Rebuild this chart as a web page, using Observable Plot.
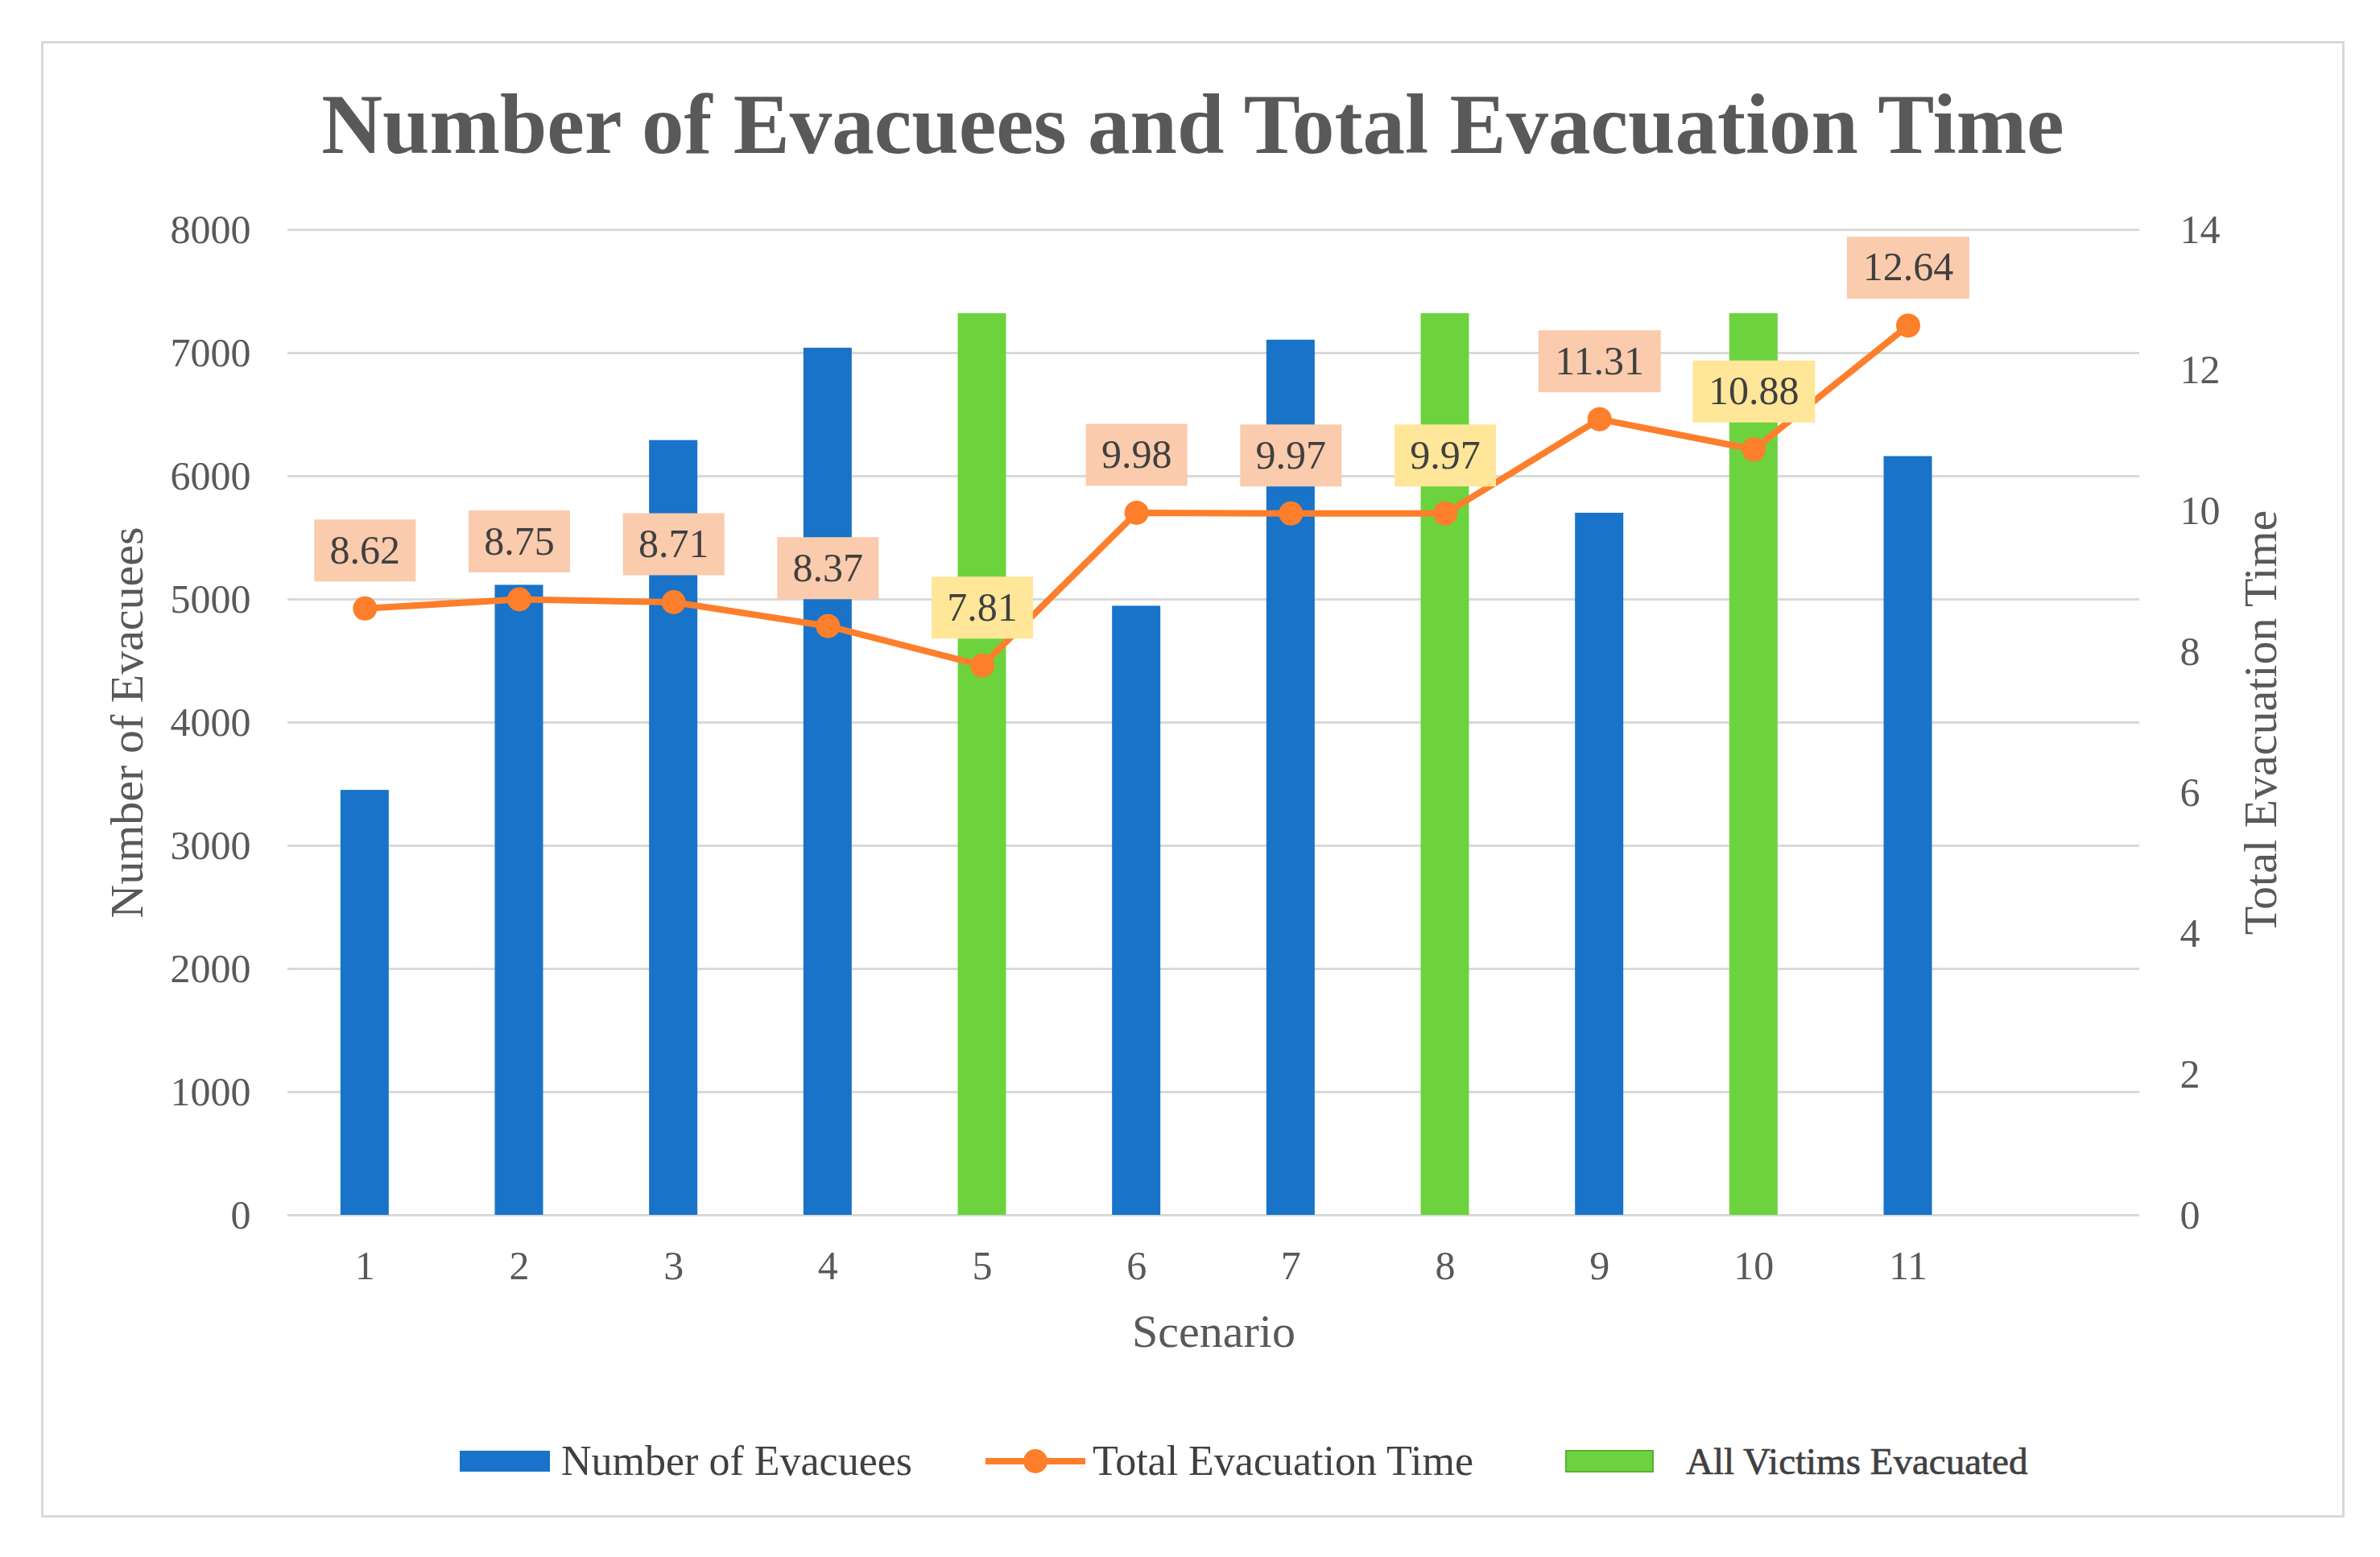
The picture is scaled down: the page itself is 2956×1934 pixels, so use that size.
<!DOCTYPE html>
<html>
<head>
<meta charset="utf-8">
<script src="https://cdn.jsdelivr.net/npm/d3@7"></script>
<script src="https://cdn.jsdelivr.net/npm/@observablehq/plot@0.6"></script>
<style>
html, body { margin: 0; padding: 0; background: #fff; }
body { width: 2956px; height: 1934px; position: relative; overflow: hidden; font-family: "Liberation Serif", "Times New Roman", serif; }
#frame { position: absolute; left: 51px; top: 51px; width: 2861px; height: 1834px; border: 3px solid #d9d9d9; box-sizing: border-box; }
#title { position: absolute; left: 51px; width: 2861px; top: 103px; text-align: center; font-size: 105px; line-height: 104px; font-weight: bold; color: #595959; white-space: nowrap; }
#chart { position: absolute; left: 0; top: 230px; }
#chart svg, #chart svg text { font-family: "Liberation Serif", "Times New Roman", serif !important; }
.lg { position: absolute; top: 1785px; line-height: 60px; font-size: 52px; color: #404040; white-space: nowrap; }
.sw { position: absolute; }
</style>
</head>
<body>
<div id="frame"></div>
<div id="title">Number of Evacuees and Total Evacuation Time</div>
<div id="chart"></div>
<div id="legend"></div>
<script>
// ---- data ----
const scenarios = [1, 2, 3, 4, 5, 6, 7, 8, 9, 10, 11];
const evacuees = [3450, 5115, 6290, 7040, 7320, 4945, 7105, 7320, 5700, 7320, 6160];
const evacTime = [8.62, 8.75, 8.71, 8.37, 7.81, 9.98, 9.97, 9.97, 11.31, 10.88, 12.64];
const allEvacuated = [false, false, false, false, true, false, false, true, false, true, false];
const leftTicks = [0, 1000, 2000, 3000, 4000, 5000, 6000, 7000, 8000];
const rightTicks = [0, 2, 4, 6, 8, 10, 12, 14];
const seriesNames = ["Number of Evacuees", "Total Evacuation Time", "All Victims Evacuated"];

const BLUE = "#1873C9", GREEN = "#6CD33F", ORANGE = "#FD7E2B";
const PEACH = "#FACBAD", YELLOW = "#FFE699";
const FONT = '"Liberation Serif", "Times New Roman", serif';
const LEFT_MAX = 8000, RIGHT_MAX = 14;
const k = LEFT_MAX / RIGHT_MAX;

const data = scenarios.map((s, i) => ({
  s: String(s),
  n: evacuees[i],
  t: evacTime[i],
  all: allEvacuated[i],
  label: evacTime[i].toFixed(2)
}));

function rectSymbol(w, h) {
  return { draw(ctx) { ctx.rect(-w / 2, -h / 2, w, h); } };
}

const xDomain = [...scenarios.map(String), " "];

const chart = Plot.plot({
  width: 2956,
  height: 1500,
  marginTop: 55,
  marginBottom: 221,
  marginLeft: 357,
  marginRight: 299,
  style: { fontFamily: FONT, background: "transparent", color: "#595959", overflow: "visible" },
  x: { type: "band", domain: xDomain, paddingInner: 0.687, paddingOuter: 0.3435, align: 0.5, round: false },
  y: { domain: [0, LEFT_MAX] },
  color: { type: "identity" },
  marks: [
    Plot.ruleY(leftTicks, { stroke: "#d9d9d9", strokeWidth: 3 }),
    Plot.barY(data, { x: "s", y: "n", fill: d => d.all ? GREEN : BLUE }),
    Plot.lineY(data, { x: "s", y: d => d.t * k, stroke: ORANGE, strokeWidth: 8 }),
    Plot.dot(data, { x: "s", y: d => d.t * k, r: 15, fill: ORANGE, stroke: null }),
    Plot.dot(data.filter(d => d.label.length <= 4), { x: "s", y: d => d.t * k, dy: -72, symbol: rectSymbol(126, 77), fill: d => d.all ? YELLOW : PEACH, stroke: null }),
    Plot.dot(data.filter(d => d.label.length > 4), { x: "s", y: d => d.t * k, dy: -72, symbol: rectSymbol(152, 77), fill: d => d.all ? YELLOW : PEACH, stroke: null }),
    Plot.text(data, { x: "s", y: d => d.t * k, dy: -72, text: "label", fontSize: 50, fontFamily: FONT, fill: "#404040" }),
    Plot.axisY(leftTicks, { anchor: "left", tickSize: 0, tickPadding: 46, fontSize: 50, fontFamily: FONT, fill: "#595959", tickFormat: d => String(d), label: null }),
    Plot.axisY(rightTicks.map(v => v * k), { anchor: "right", tickSize: 0, tickPadding: 50, fontSize: 50, fontFamily: FONT, fill: "#595959", tickFormat: v => String(Math.round(v / k)), label: null }),
    Plot.axisX(scenarios.map(String), { anchor: "bottom", tickSize: 0, tickPadding: 44, fontSize: 50, fontFamily: FONT, fill: "#595959", label: null }),
    Plot.text([seriesNames[0]], { frameAnchor: "left", textAnchor: "middle", lineAnchor: "middle", dx: -199, rotate: -90, fontSize: 58, fontFamily: FONT, fill: "#595959" }),
    Plot.text([seriesNames[1]], { frameAnchor: "right", textAnchor: "middle", lineAnchor: "middle", dx: 151, rotate: -90, fontSize: 58, fontFamily: FONT, fill: "#595959" }),
    Plot.text(["Scenario"], { frameAnchor: "bottom", textAnchor: "middle", lineAnchor: "middle", dy: 145, fontSize: 58, fontFamily: FONT, fill: "#595959" })
  ]
});
document.getElementById("chart").appendChild(chart);

// ---- legend ----
const legend = document.getElementById("legend");
legend.innerHTML = `
  <div class="sw" style="left:571px;top:1802px;width:112px;height:26px;background:${BLUE}"></div>
  <span class="lg" style="left:697px">${seriesNames[0]}</span>
  <svg class="sw" style="left:1224px;top:1795px" width="124" height="40">
    <line x1="0" y1="20" x2="124" y2="20" stroke="${ORANGE}" stroke-width="8"/>
    <circle cx="62" cy="20" r="15" fill="${ORANGE}"/>
  </svg>
  <span class="lg" style="left:1357px">${seriesNames[1]}</span>
  <div class="sw" style="left:1944px;top:1801px;width:110px;height:28px;background:${GREEN};border:2px solid #58B032;box-sizing:border-box"></div>
  <span class="lg" style="left:2094px;font-size:47px;-webkit-text-stroke:0.7px #404040">${seriesNames[2]}</span>
`;
</script>
</body>
</html>
